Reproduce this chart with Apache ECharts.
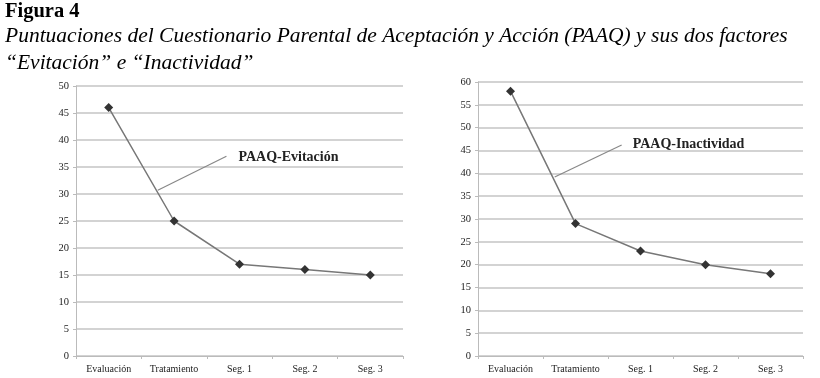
<!DOCTYPE html>
<html><head><meta charset="utf-8">
<script src="https://cdn.jsdelivr.net/npm/echarts@6/dist/echarts.min.js"></script>
<style>html,body{margin:0;padding:0;background:#fff}#c{width:820px;height:378px}</style>
</head><body><div id="c"></div>
<script>
const categories = ['Evaluación', 'Tratamiento', 'Seg. 1', 'Seg. 2', 'Seg. 3'];
const evitacion = [46, 25, 17, 16, 15];
const inactividad = [58, 29, 23, 20, 18];
const leftTicks = {min: 0, max: 50, interval: 5};
const rightTicks = {min: 0, max: 60, interval: 5};
const FONT = '"Liberation Serif", "DejaVu Serif", serif';

const chart = echarts.init(document.getElementById('c'), null, {renderer: 'canvas'});
function xAx(i) {
  return {
    type: 'category', gridIndex: i, data: categories, boundaryGap: true,
    axisLine: {lineStyle: {color: '#bbb'}},
    axisTick: {show: true, length: 3, lineStyle: {color: '#bbb'}},
    axisLabel: {color: '#222', fontFamily: FONT, fontSize: 10, margin: 8}
  };
}
function yAx(i, t) {
  return {
    type: 'value', gridIndex: i, min: t.min, max: t.max, interval: t.interval,
    axisLine: {show: true, lineStyle: {color: '#bbb'}},
    axisTick: {show: true, length: 3, lineStyle: {color: '#bbb'}},
    axisLabel: {color: '#222', fontFamily: FONT, fontSize: 10.5, margin: 7},
    splitLine: {lineStyle: {color: '#c4c4c4', width: 1.5}}
  };
}
function ser(i, d) {
  return {
    type: 'line', xAxisIndex: i, yAxisIndex: i, data: d,
    symbol: 'diamond', symbolSize: 9,
    itemStyle: {color: '#333'},
    lineStyle: {color: '#777', width: 1.5},
    animation: false
  };
}
chart.setOption({
  animation: false,
  title: [
    {text: 'Figura 4', left: 5, top: 1, padding: 0, textStyle: {fontFamily: FONT, fontWeight: 'bold', fontSize: 20.5, color: '#000'}},
    {text: 'Puntuaciones del Cuestionario Parental de Aceptación y Acción (PAAQ) y sus dos factores\n“Evitación” e “Inactividad”',
     left: 5, top: 23, padding: 0, textStyle: {fontFamily: FONT, fontStyle: 'italic', fontWeight: 'normal', fontSize: 21.5, lineHeight: 27, color: '#000'}}
  ],
  grid: [
    {left: 76, right: 417, top: 86, bottom: 22},
    {left: 478, right: 17, top: 82, bottom: 22}
  ],
  xAxis: [xAx(0), xAx(1)],
  yAxis: [yAx(0, leftTicks), yAx(1, rightTicks)],
  series: [ser(0, evitacion), ser(1, inactividad)]
});

// annotations (leader lines + labels) positioned via axis conversion
function pt(i, x, y) {
  const i0 = Math.floor(x), f = x - i0;
  const p0 = chart.convertToPixel({gridIndex: i}, [i0, y]);
  const p1 = chart.convertToPixel({gridIndex: i}, [i0 + 1, y]);
  return [p0[0] + (p1[0] - p0[0]) * f, p0[1]];
}
const a1 = pt(0, 0.75, 30.7), b1 = pt(0, 1.8, 37);
const a2 = pt(1, 0.68, 39.2), b2 = pt(1, 1.71, 46.2);
chart.setOption({
  graphic: [
    {type: 'line', shape: {x1: a1[0], y1: a1[1], x2: b1[0], y2: b1[1]}, style: {stroke: '#888', lineWidth: 1.2}},
    {type: 'text', x: b1[0] + 12, y: b1[1] - 6, style: {text: 'PAAQ-Evitación', font: 'bold 14px ' + FONT, fill: '#222'}},
    {type: 'line', shape: {x1: a2[0], y1: a2[1], x2: b2[0], y2: b2[1]}, style: {stroke: '#888', lineWidth: 1.2}},
    {type: 'text', x: b2[0] + 11, y: b2[1] - 8, style: {text: 'PAAQ-Inactividad', font: 'bold 14px ' + FONT, fill: '#222'}}
  ]
});
</script></body></html>
